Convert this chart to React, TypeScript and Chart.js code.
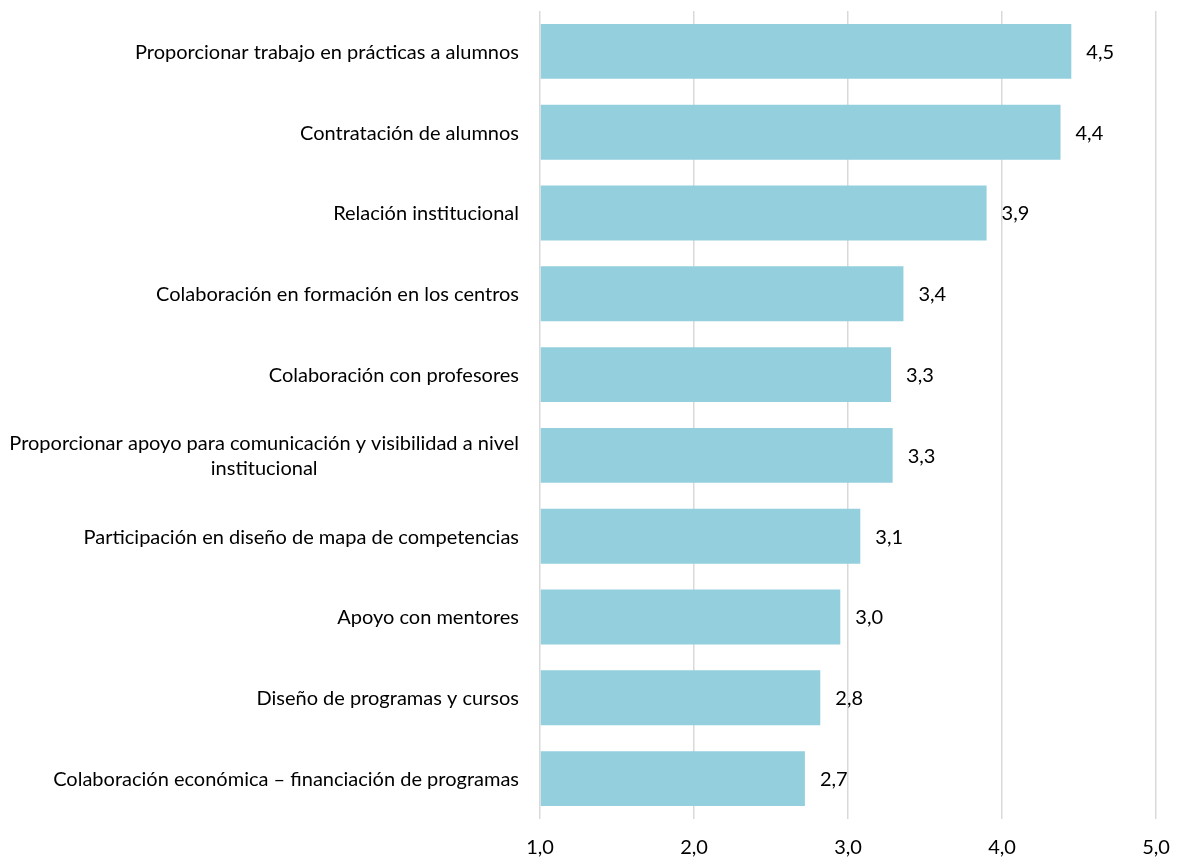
import React, { useEffect, useRef } from "react";
import { Chart, registerables } from "chart.js";

Chart.register(...registerables);

const categories: (string | string[])[] = [
  "Proporcionar trabajo en prácticas a alumnos",
  "Contratación de alumnos",
  "Relación institucional",
  "Colaboración en formación en los centros",
  "Colaboración con profesores",
  ["Proporcionar apoyo para comunicación y visibilidad a nivel", "institucional"],
  "Participación en diseño de mapa de competencias",
  "Apoyo con mentores",
  "Diseño de programas y cursos",
  "Colaboración económica – financiación de programas",
];
const values = [4.45, 4.38, 3.9, 3.36, 3.28, 3.29, 3.08, 2.95, 2.82, 2.72];
const valueLabels = ["4,5", "4,4", "3,9", "3,4", "3,3", "3,3", "3,1", "3,0", "2,8", "2,7"];
const xMin = 1;
const xMax = 5;

const FONT_FAMILY = "Lato, 'Open Sans', sans-serif";
const FONT_SIZE = 20;
const TEXT_COLOR = "#000000";
const BAR_COLOR = "#94CFDE";
const GRID_COLOR = "#D9D9D9";

const W = 1179;
const H = 859;

const labelPlugin = {
  id: "customLabels",
  afterDatasetsDraw(chart: any) {
    const ctx = chart.ctx as CanvasRenderingContext2D;
    const yScale = chart.scales.y;
    ctx.save();
    ctx.font = `${FONT_SIZE}px ${FONT_FAMILY}`;
    ctx.fillStyle = TEXT_COLOR;
    ctx.textBaseline = "middle";
    const right = chart.chartArea.left - 21;
    categories.forEach((c, i) => {
      const py = yScale.getPixelForValue(i);
      const lines = Array.isArray(c) ? c : [c];
      const maxW = Math.max(...lines.map((l) => ctx.measureText(l).width));
      const lh = 25;
      lines.forEach((l, j) => {
        const ly = py + (j - (lines.length - 1) / 2) * lh;
        ctx.textAlign = "center";
        ctx.fillText(l, right - maxW / 2, ly + 1);
      });
    });
    const meta = chart.getDatasetMeta(0);
    meta.data.forEach((bar: any, i: number) => {
      ctx.textAlign = "left";
      ctx.fillText(valueLabels[i], bar.x + 15, bar.y + 1);
    });
    ctx.restore();
  },
};

export default function App() {
  const ref = useRef<HTMLCanvasElement | null>(null);
  useEffect(() => {
    document.body.style.margin = "0";
    document.body.style.overflow = "hidden";
    if (!ref.current) return;
    const chart = new Chart(ref.current, {
      type: "bar",
      data: {
        labels: categories.map((c) => (Array.isArray(c) ? c.join(" ") : c)),
        datasets: [
          {
            data: values,
            base: xMin,
            backgroundColor: BAR_COLOR,
            borderWidth: 0,
            categoryPercentage: 1,
            barPercentage: 0.68,
          } as any,
        ],
      },
      options: {
        indexAxis: "y",
        animation: false,
        responsive: false,
        layout: { padding: { top: 11, right: 0, left: 0, bottom: 0 } },
        plugins: {
          legend: { display: false },
          tooltip: { enabled: false },
        },
        scales: {
          x: {
            min: xMin,
            max: xMax,
            afterFit: (scale: any) => {
              scale.height = 40;
              scale.paddingLeft = 0;
              scale.paddingRight = 23;
            },
            ticks: {
              stepSize: 1,
              padding: 17,
              color: TEXT_COLOR,
              font: { family: FONT_FAMILY, size: FONT_SIZE },
              callback: (v: any) => Number(v).toFixed(1).replace(".", ","),
            },
            grid: { color: GRID_COLOR, lineWidth: 1.5, drawTicks: false },
            border: { display: false },
          },
          y: {
            afterFit: (scale: any) => {
              scale.width = 540;
            },
            ticks: { display: false },
            grid: { display: false },
            border: { display: false },
          },
        },
      },
      plugins: [labelPlugin],
    });
    return () => chart.destroy();
  }, []);
  return (
    <div style={{ width: W, height: H }}>
      <canvas ref={ref} width={W} height={H} style={{ display: "block" }} />
    </div>
  );
}
